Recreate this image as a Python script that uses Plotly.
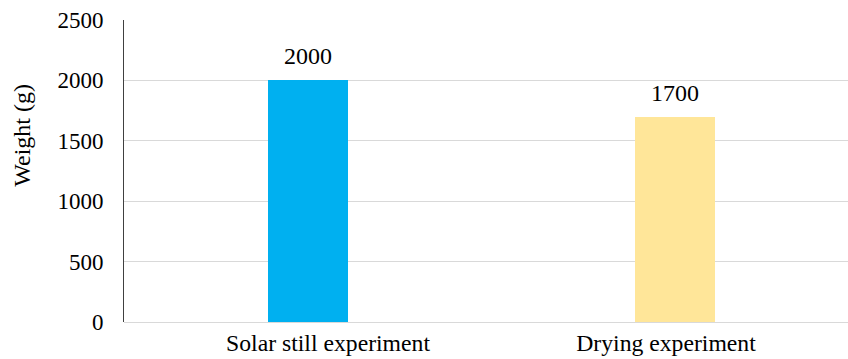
import plotly.graph_objects as go

categories = ["Solar still experiment", "Drying experiment"]
weights = [2000, 1700]
colors = ["#00B0F0", "#FFE699"]
y_ticks = [0, 500, 1000, 1500, 2000, 2500]

font_family = "Liberation Serif, Times New Roman, serif"

# bar placement within each category (axis units)
bar_width = 0.2367
bar_offsets = [-0.1775, -0.0917]

fig = go.Figure()
fig.add_trace(go.Bar(
    x=categories, y=weights, marker_color=colors, width=bar_width,
    offset=bar_offsets, marker_line_width=0, showlegend=False,
))
for i, v in enumerate(weights):
    fig.add_annotation(x=i + bar_offsets[i] + bar_width / 2, y=v, text=str(v),
                       showarrow=False, yanchor="bottom", yshift=9,
                       font=dict(family=font_family, size=24, color="#000"))

fig.add_annotation(xref="paper", yref="paper", x=-0.141, y=0.62,
                   text="Weight (g)", textangle=-90, showarrow=False,
                   xanchor="center", yanchor="middle",
                   font=dict(family=font_family, size=24, color="#000"))

fig.update_layout(
    width=848, height=359,
    margin=dict(l=124, r=0, t=20, b=37),
    plot_bgcolor="white", paper_bgcolor="white",
    font=dict(family=font_family, size=23, color="#000"),
    bargap=0,
)
fig.update_xaxes(
    range=[-0.6036, 1.5385], showline=False, showgrid=False, ticks="",
    ticklabelstandoff=4, tickfont=dict(size=23.7),
)
fig.update_yaxes(
    range=[0, 2500], tickvals=y_ticks, showgrid=True, gridcolor="#d9d9d9",
    gridwidth=1, showline=True, linecolor="#404040", linewidth=1,
    zeroline=True, zerolinecolor="#d9d9d9", zerolinewidth=1,
    ticks="", ticklabelstandoff=15,
)
fig.write_html("out.html", config={"displayModeBar": False},
               post_script="document.body.style.margin='0';document.body.style.overflow='hidden';")
